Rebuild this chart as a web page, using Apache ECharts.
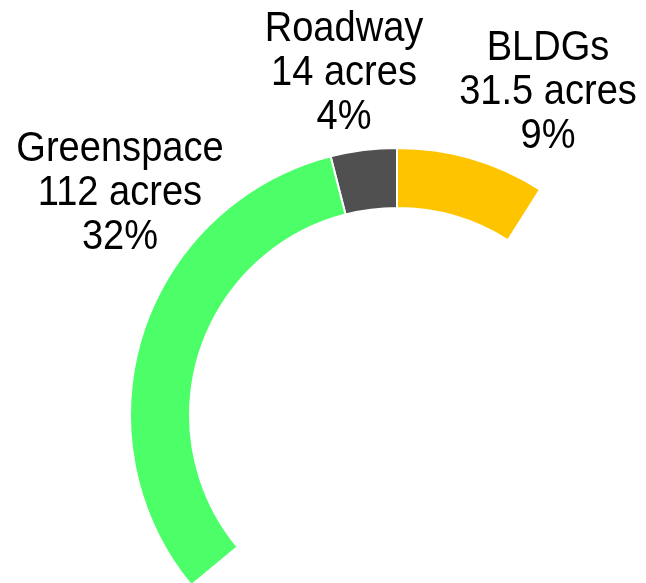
<!DOCTYPE html>
<html>
<head>
<meta charset="utf-8">
<script src="https://cdn.jsdelivr.net/npm/echarts@6/dist/echarts.min.js"></script>
<style>
html,body{margin:0;padding:0;background:#fff;}
#chart{width:646px;height:583px;}
</style>
</head>
<body>
<div id="chart"></div>
<script>
var categories = ['BLDGs', 'Roadway', 'Greenspace'];
var acres = [31.5, 14, 112];
var percents = ['9%', '4%', '32%'];
var remainderAcres = 192.5; // invisible part of the ring (total 350 acres)
var colors = ['#FFC400', '#505050', '#4CFF69'];

var labelPos = [[548, 92], [344, 73], [120, 193]];

var data = categories.map(function (c, i) {
  return { name: c, value: acres[i], itemStyle: { color: colors[i] } };
});
data.push({
  name: 'rest',
  value: remainderAcres,
  itemStyle: { color: 'rgba(0,0,0,0)', borderWidth: 0 },
  emphasis: { disabled: true }
});

var labels = categories.map(function (c, i) {
  return {
    type: 'text',
    x: labelPos[i][0],
    y: labelPos[i][1],
    scaleX: 0.885,
    silent: true,
    style: {
      text: c + '\n' + acres[i] + ' acres\n' + percents[i],
      font: '43px "Liberation Sans", Arial, sans-serif',
      lineHeight: 44,
      fill: '#000',
      align: 'center',
      verticalAlign: 'middle'
    }
  };
});

var chart = echarts.init(document.getElementById('chart'), null, { renderer: 'canvas' });
chart.setOption({
  animation: false,
  graphic: labels,
  series: [{
    type: 'pie',
    center: [397, 415],
    radius: [207, 267],
    startAngle: 57.6,
    clockwise: false,
    silent: true,
    itemStyle: { borderColor: '#fff', borderWidth: 2 },
    label: { show: false },
    labelLine: { show: false },
    data: data
  }]
});
</script>
</body>
</html>
